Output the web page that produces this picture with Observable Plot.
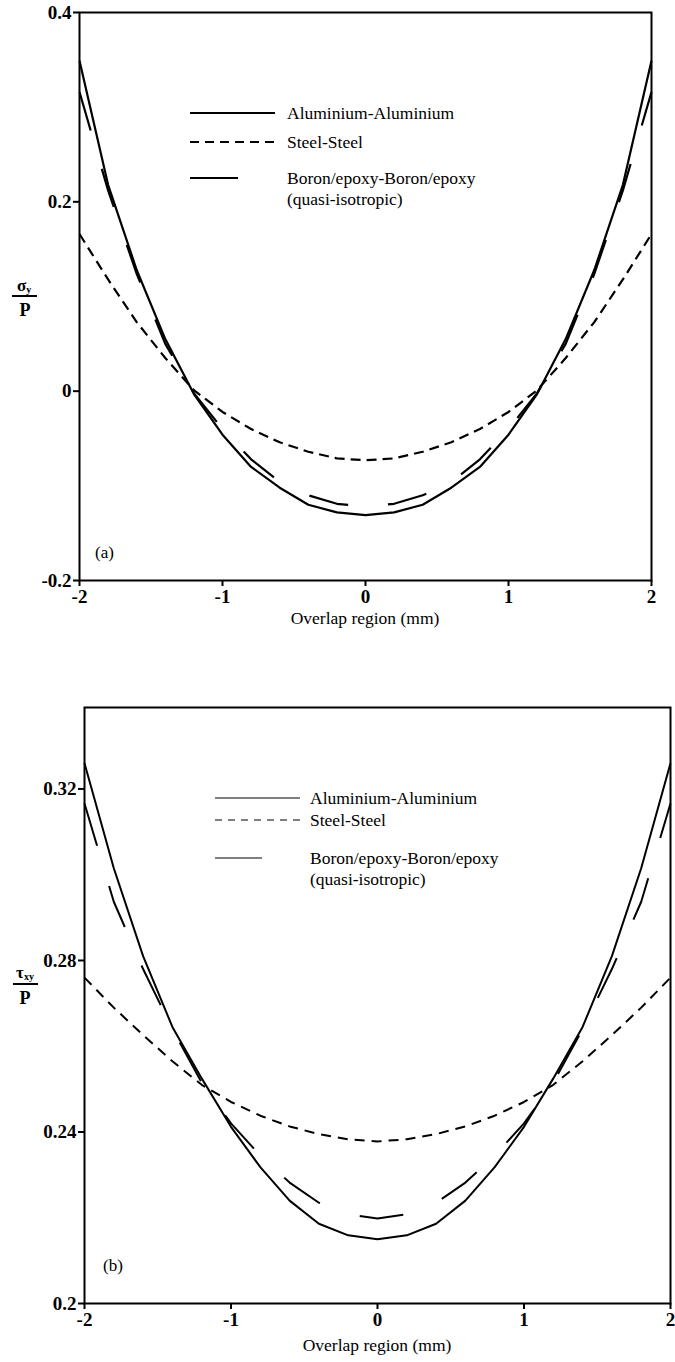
<!DOCTYPE html>
<html><head><meta charset="utf-8">
<script src="https://cdn.jsdelivr.net/npm/d3@7"></script>
<script src="https://cdn.jsdelivr.net/npm/@observablehq/plot@0.6"></script>
<style>
body{margin:0;background:#fff;}
#wrap{position:relative;width:675px;height:1362px;overflow:hidden;font-family:"Liberation Serif","Times New Roman",serif;color:#000;background:#fff;}
#wrap svg{position:absolute;left:0;}
.t{position:absolute;white-space:nowrap;line-height:1;transform:translateY(-50%);font-size:17.5px;font-family:"Liberation Serif","Times New Roman",serif;}
.c{transform:translate(-50%,-50%);}
.bar{position:absolute;background:#000;}
</style></head><body><div id="wrap"></div>
<script>
// overlap region positions (mm)
const xPos = [-2,-1.8,-1.6,-1.4,-1.2,-1,-0.8,-0.6,-0.4,-0.2,0,0.2,0.4,0.6,0.8,1,1.2,1.4,1.6,1.8,2];
// (a) sigma_y / P
const sigmaAluminium = [0.349,0.218,0.128,0.055,-0.003,-0.046,-0.080,-0.102,-0.120,-0.128,-0.131,-0.128,-0.120,-0.102,-0.080,-0.046,-0.003,0.055,0.128,0.218,0.349];
const sigmaSteel     = [0.166,0.118,0.073,0.035,0.001,-0.022,-0.040,-0.054,-0.064,-0.071,-0.073,-0.071,-0.064,-0.054,-0.040,-0.022,0.001,0.035,0.073,0.118,0.166];
const sigmaBoron     = [0.316,0.212,0.124,0.050,-0.002,-0.040,-0.072,-0.096,-0.110,-0.119,-0.122,-0.119,-0.110,-0.096,-0.072,-0.040,-0.002,0.050,0.124,0.212,0.316];
// (b) tau_xy / P
const tauAluminium = [0.326,0.3015,0.2810,0.2645,0.2525,0.2412,0.2318,0.2240,0.2186,0.2159,0.2150,0.2159,0.2186,0.2240,0.2318,0.2412,0.2525,0.2645,0.2810,0.3015,0.326];
const tauSteel     = [0.2760,0.2690,0.2626,0.2565,0.2510,0.2470,0.2438,0.2413,0.2395,0.2383,0.2378,0.2383,0.2395,0.2413,0.2438,0.2470,0.2510,0.2565,0.2626,0.2690,0.2760];
const tauBoron     = [0.3166,0.2937,0.2780,0.2640,0.2515,0.2420,0.2345,0.2282,0.2235,0.2208,0.2198,0.2208,0.2235,0.2282,0.2345,0.2420,0.2515,0.2640,0.2780,0.2937,0.3166];

const xTicks = [-2,-1,0,1,2];
const yTicksA = [-0.2,0,0.2,0.4];
const yTicksB = [0.2,0.24,0.28,0.32];
const seriesNames = ["Aluminium-Aluminium","Steel-Steel","Boron/epoxy-Boron/epoxy"];

const wrap = document.getElementById("wrap");
const rows = (vals) => xPos.map((x,i)=>({x, y: vals[i]}));
const fmt = d => String(d);

function chart({top, height, mt, mb, ml, mr, ydom, yticks, series, sw, dashes}) {
  const p = Plot.plot({
    width: 675, height, marginTop: mt, marginBottom: mb, marginLeft: ml, marginRight: mr,
    x: {domain: [-2,2]},
    y: {domain: ydom},
    style: {fontFamily: "'Liberation Serif', 'Times New Roman', serif", fontSize: "19px", fontWeight: "bold", color: "#000", background: "transparent"},
    marks: [
      ...series.map((vals,i)=>Plot.line(rows(vals), {x:"x", y:"y", stroke:"#000", strokeWidth: sw, strokeDasharray: dashes[i], strokeLinejoin:"miter", strokeLinecap:"butt"})),
      Plot.frame({stroke:"#000", strokeWidth: 2}),
      Plot.axisX({ticks: xTicks, tickSize: 6, tickPadding: 3, tickFormat: fmt, label: null, strokeWidth: 2}),
      Plot.axisY({ticks: yticks, tickSize: 6, tickPadding: 2, tickFormat: fmt, label: null, strokeWidth: 2})
    ]
  });
  p.style.top = top + "px";
  wrap.appendChild(p);
}

chart({top:0, height:620, mt:12, mb:40, ml:79, mr:24, ydom:[-0.2,0.4], yticks:yTicksA,
  series:[sigmaAluminium, sigmaSteel, sigmaBoron], sw:2.2, dashes:[null,"10,6","40,40"]});
chart({top:630, height:732, mt:77, mb:59, ml:84, mr:5, ydom:[0.2,0.339], yticks:yTicksB,
  series:[tauAluminium, tauSteel, tauBoron], sw:2, dashes:[null,"10,7","44,42"]});

// overlay: legends, labels
const ns = "http://www.w3.org/2000/svg";
const ov = document.createElementNS(ns,"svg");
ov.setAttribute("width",675); ov.setAttribute("height",1362);
ov.style.top = "0px"; ov.style.pointerEvents="none";
wrap.appendChild(ov);
function seg(x1,x2,y,w,dash){
  const l = document.createElementNS(ns,"line");
  l.setAttribute("x1",x1); l.setAttribute("x2",x2); l.setAttribute("y1",y); l.setAttribute("y2",y);
  l.setAttribute("stroke","#000"); l.setAttribute("stroke-width",w);
  if (dash) l.setAttribute("stroke-dasharray",dash);
  ov.appendChild(l);
}
function txt(s,x,y,cls,extra){
  const d = document.createElement("div");
  d.className = "t" + (cls? " "+cls : "");
  d.style.left = x+"px"; d.style.top = y+"px";
  if (extra) Object.assign(d.style, extra);
  d.innerHTML = s;
  wrap.appendChild(d);
}
function bar(x,y,w,h){
  const d=document.createElement("div"); d.className="bar";
  Object.assign(d.style,{left:x+"px",top:y+"px",width:w+"px",height:h+"px"});
  wrap.appendChild(d);
}
// legend (a)
seg(190,275,113,2.2,null);
seg(190,277,142,2.2,"9,6");
seg(190,238,178,2.2,null);
txt(seriesNames[0],287,114);
txt(seriesNames[1],287,143);
txt(seriesNames[2],287,179);
txt("(quasi-isotropic)",287,200);
// legend (b)
seg(215,300,798,1.2,null);
seg(215,300,820,1.2,"7,6");
seg(215,262,858,1.2,null);
txt(seriesNames[0],310,799);
txt(seriesNames[1],310,821);
txt(seriesNames[2],310,859);
txt("(quasi-isotropic)",310,880);
// panel tags
txt("(a)",95,552,null,{fontSize:"17px"});
txt("(b)",103,1265,null,{fontSize:"17px"});
// x labels
txt("Overlap region (mm)",365,619,"c");
txt("Overlap region (mm)",377,1346,"c");
// y labels (fractions)
txt("σ<sub style='font-size:10px;vertical-align:-2px'>y</sub>",24,286,"c",{fontWeight:"bold",fontSize:"17px"});
bar(12,295,25,2);
txt("P",25,310,"c",{fontWeight:"bold",fontSize:"18px"});
txt("τ<sub style='font-size:10px;vertical-align:-2px'>xy</sub>",25,973,"c",{fontWeight:"bold",fontSize:"17px"});
bar(13,983,25,2);
txt("P",25,998,"c",{fontWeight:"bold",fontSize:"18px"});
</script></body></html>
